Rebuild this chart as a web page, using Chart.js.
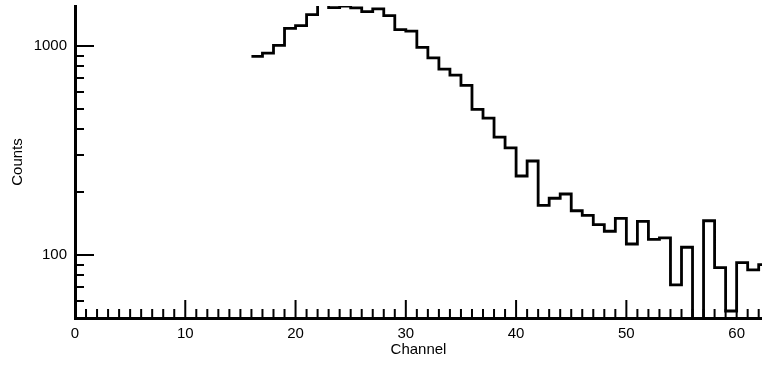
<!DOCTYPE html>
<html>
<head>
<meta charset="utf-8">
<script src="https://cdn.jsdelivr.net/npm/chart.js@4"></script>
<style>
  html, body { margin: 0; padding: 0; background: #fff; }
  #wrap { width: 762px; height: 368px; }
</style>
</head>
<body>
<div id="wrap"><canvas id="spectrum"></canvas></div>
<script>
// histogram bins: left edge channel and counts per bin
let firstChannel = 16
let counts = [
  892, 925, 1008, 1216, 1252, 1414, 1700, 1527, 1552, 1523,
  1462, 1506, 1399, 1198, 1180, 986, 878, 775, 726, 649,
  498, 452, 367, 326, 239, 282, 173, 187, 196, 163,
  155, 140, 130, 150, 113, 145, 119, 121, 72, 109,
  0, 146, 87, 54, 92, 85, 90
]
let xTickValues = [0, 10, 20, 30, 40, 50, 60]
let yTickValues = [100, 1000]

// step points (last bin repeated so its right edge is drawn)
let points = counts.map((c, i) => ({ x: firstChannel + i, y: Math.max(c, 1) }))
points.push({ x: firstChannel + counts.length, y: Math.max(counts[counts.length - 1], 1) })

const tickMarks = {
  id: 'tickMarks',
  afterDatasetsDraw(chart) {
    const { ctx, chartArea, scales: { x, y } } = chart
    ctx.save()
    ctx.strokeStyle = '#000'
    ctx.lineWidth = 2
    ctx.beginPath()
    for (let c = 1; c <= x.max; c++) {
      const px = x.getPixelForValue(c)
      const len = c % 10 === 0 ? 18 : 9
      ctx.moveTo(px, chartArea.bottom)
      ctx.lineTo(px, chartArea.bottom - len)
    }
    for (let d = 10; d <= 1000; d *= 10) {
      for (let m = 1; m <= 9; m++) {
        const v = m * d
        if (v < y.min || v > y.max) continue
        const py = Math.round(y.getPixelForValue(v))
        const len = m === 1 ? 19 : 9
        ctx.moveTo(chartArea.left, py)
        ctx.lineTo(chartArea.left + len, py)
      }
    }
    ctx.stroke()
    ctx.restore()
  }
}

let font = { family: 'Liberation Sans', size: 15 }

new Chart(document.querySelector('#spectrum'), {
  type: 'line',
  plugins: [tickMarks],
  data: {
    datasets: [{
      data: points,
      stepped: 'before',
      borderColor: '#000',
      borderWidth: 2.8,
      pointRadius: 0,
      fill: false
    }]
  },
  options: {
    responsive: true,
    maintainAspectRatio: false,
    animation: false,
    layout: {
      padding: { top: 6, right: 0, left: 0, bottom: 0 }
    },
    scales: {
      x: {
        type: 'linear',
        min: 0,
        max: 62.3,
        afterFit: scale => {
          scale.height = 50
          scale.paddingLeft = 0
          scale.paddingRight = 0
        },
        afterBuildTicks: scale => { scale.ticks = xTickValues.map(v => ({ value: v })) },
        border: { display: true, color: '#000', width: 3 },
        grid: { display: false, drawTicks: false },
        ticks: {
          color: '#000',
          padding: 7,
          autoSkip: false,
          maxRotation: 0,
          font: font,
          callback: v => String(v)
        },
        title: {
          display: true,
          text: 'Channel',
          color: '#000',
          font: font,
          padding: { top: 0, bottom: 9 }
        }
      },
      y: {
        type: 'logarithmic',
        min: 50,
        max: 1555,
        afterFit: scale => {
          scale.width = 75
          scale.paddingTop = 0
          scale.paddingBottom = 0
        },
        afterBuildTicks: scale => { scale.ticks = yTickValues.map(v => ({ value: v })) },
        border: { display: true, color: '#000', width: 3 },
        grid: { display: false, drawTicks: false },
        ticks: {
          color: '#000',
          padding: 8,
          font: font,
          callback: v => String(v)
        },
        title: {
          display: true,
          text: 'Counts',
          color: '#000',
          font: font,
          padding: { top: 9, bottom: 0 }
        }
      }
    },
    plugins: {
      legend: { display: false },
      tooltip: { enabled: false }
    }
  }
})
</script>
</body>
</html>
